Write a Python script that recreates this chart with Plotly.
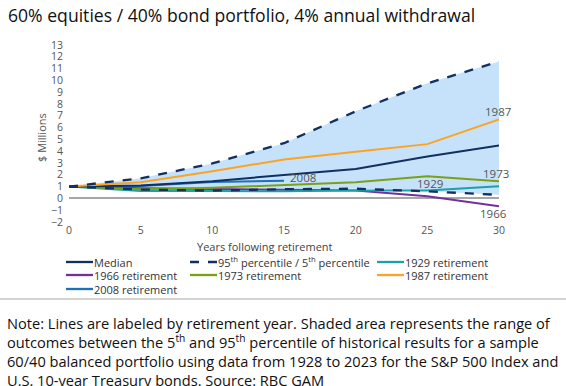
import plotly.graph_objects as go

# ---------------- data ----------------
years = [0, 5, 10, 15, 20, 25, 30]
median = [1.0, 1.09, 1.46, 1.95, 2.5, 3.55, 4.48]
p95 = [1.0, 1.7, 2.96, 4.68, 7.38, 9.75, 11.6]
p5 = [1.0, 0.75, 0.66, 0.78, 0.82, 0.6, 0.3]
r1929 = [1.0, 0.62, 0.62, 0.6, 0.66, 0.68, 1.03]
r1966 = [1.0, 0.86, 0.8, 0.75, 0.66, 0.18, -0.67]
r1973 = [1.0, 0.78, 0.9, 1.12, 1.37, 1.88, 1.46]
r1987 = [1.0, 1.37, 2.3, 3.3, 3.95, 4.6, 6.7]
years_2008 = [0, 5, 10, 15]
r2008 = [1.0, 1.05, 1.38, 1.5]

ytick_vals = list(range(-2, 14))
xtick_vals = [0, 5, 10, 15, 20, 25, 30]

# ---------------- style ----------------
C_MED = "#12305f"
C_PCT = "#12305f"
C_1929 = "#17a3a8"
C_1966 = "#7030a0"
C_1973 = "#7aa116"
C_1987 = "#fca321"
C_2008 = "#1f6fc1"
C_FILL = "#c5e2fa"
FONT = "Open Sans"

# plot area in pixels
L, T, W, H = 69, 45, 430, 177
def px(x):
    return (x - L) / W
def py(y):
    return (T + H - y) / H

fig = go.Figure()

# shaded 5th-95th band
fig.add_trace(go.Scatter(
    x=years + years[::-1], y=p95 + p5[::-1], fill="toself",
    fillcolor=C_FILL, line=dict(width=0), mode="lines",
    showlegend=False, hoverinfo="skip"))

def line(x, y, color, dash="solid", width=2):
    fig.add_trace(go.Scatter(x=x, y=y, mode="lines",
                             line=dict(color=color, width=width, dash=dash),
                             showlegend=False))

line(years, r1966, C_1966)
line(years, r1929, C_1929)
line(years, r1973, C_1973)
line(years_2008, r2008, C_2008)
line(years, median, C_MED)
line(years, r1987, C_1987)
line(years, p5, C_PCT, dash="dash", width=2.3)
line(years, p95, C_PCT, dash="dash", width=2.3)

# ---------------- layout ----------------
fig.update_layout(
    width=566, height=386,
    margin=dict(l=L, r=566 - L - W, t=T, b=386 - T - H),
    paper_bgcolor="white", plot_bgcolor="white",
    font=dict(family=FONT, color="#555555", size=11),
    showlegend=False,
)
fig.update_xaxes(range=[0, 30], tickvals=xtick_vals, showgrid=False,
                 zeroline=False, showline=False, ticks="",
                 ticklabelstandoff=0,
                 tickfont=dict(size=10.5, color="#555555"))
fig.update_yaxes(range=[-2, 13], tickvals=ytick_vals, showgrid=False,
                 zeroline=True, zerolinecolor="#a6a6a6", zerolinewidth=1.5,
                 showline=False, ticks="", ticklabelstandoff=5,
                 tickfont=dict(size=10.5, color="#555555"))

ann = []
# title
ann.append(dict(text="60% equities / 40% bond portfolio, 4% annual withdrawal",
                xref="paper", yref="paper", x=px(6), y=py(15), xanchor="left",
                yanchor="middle", showarrow=False,
                font=dict(size=17.6, color="#111111", family=FONT)))
# axis titles
ann.append(dict(text="$ Millions", xref="paper", yref="paper", x=px(41), y=py(138),
                textangle=-90, showarrow=False, xanchor="center", yanchor="middle",
                font=dict(size=11, color="#555555")))
ann.append(dict(text="Years following retirement", xref="paper", yref="paper",
                x=px(265), y=py(246), showarrow=False, xanchor="center",
                yanchor="middle", font=dict(size=11, color="#444444")))

# line labels
labels = [("1987", 29.9, 7.4), ("1973", 29.8, 2.1), ("1929", 25.2, 1.27),
          ("1966", 29.6, -1.3), ("2008", 16.3, 1.78)]
for t, x, y in labels:
    ann.append(dict(text=t, x=x, y=y, xref="x", yref="y", showarrow=False,
                    xanchor="center", yanchor="middle",
                    font=dict(size=11.5, color="#555555")))

# legend (manual, three columns)
legend_items = [
    ("Median", C_MED, "solid", 66, 262),
    ("95<sup>th</sup> percentile / 5<sup>th</sup> percentile", C_PCT, "dash", 190, 262),
    ("1929 retirement", C_1929, "solid", 377, 262),
    ("1966 retirement", C_1966, "solid", 66, 275),
    ("1973 retirement", C_1973, "solid", 190, 275),
    ("1987 retirement", C_1987, "solid", 377, 275),
    ("2008 retirement", C_2008, "solid", 66, 289),
]
shapes = []
for name, col, dash, x0, y0 in legend_items:
    shapes.append(dict(type="line", xref="paper", yref="paper",
                       x0=px(x0), x1=px(x0 + 27), y0=py(y0), y1=py(y0),
                       line=dict(color=col, width=2.3, dash="dash" if dash == "dash" else "solid")))
    ann.append(dict(text=name, xref="paper", yref="paper", x=px(x0 + 26), y=py(y0),
                    xanchor="left", yanchor="middle", showarrow=False,
                    font=dict(size=11, color="#333333")))

# separator
shapes.append(dict(type="line", xref="paper", yref="paper", x0=px(0), x1=px(566),
                   y0=py(299), y1=py(299), line=dict(color="#d4d4d4", width=2)))

# note
note = ("Note: Lines are labeled by retirement year. Shaded area represents the range of<br>"
        "outcomes between the 5<sup>th</sup> and 95<sup>th</sup> percentile of historical results for a sample<br>"
        "60/40 balanced portfolio using data from 1928 to 2023 for the S&P 500 Index and<br>"
        "U.S. 10-year Treasury bonds. Source: RBC GAM")
ann.append(dict(text=note, xref="paper", yref="paper", x=px(5), y=py(311),
                xanchor="left", yanchor="top", align="left", showarrow=False,
                font=dict(size=14.6, color="#111111", family=FONT)))

fig.update_layout(annotations=ann, shapes=shapes)
fig.write_html("out.html", config={"displayModeBar": False},
               post_script="document.body.style.margin='0';document.body.style.overflow='hidden';")
